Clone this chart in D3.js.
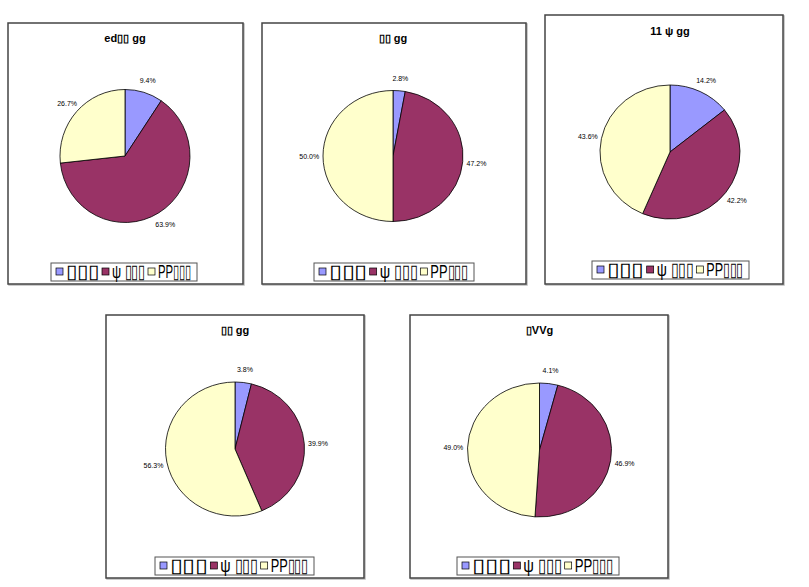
<!DOCTYPE html>
<html lang="en">
<head>
    <meta charset="UTF-8">
    <title>Pies</title>
    <script src="https://cdnjs.cloudflare.com/ajax/libs/d3/7.8.5/d3.min.js"></script>
    <style>
        body { margin: 0; background: #fff; }
        text { font-family: Arial, "Liberation Sans", sans-serif; }
    </style>
</head>
<body>
<svg id="plot" width="809" height="587"></svg>
<script>
// chart data
const titles = ["ed\u25AF\u25AF gg", "\u25AF\u25AF gg", "11 \u03C8 gg", "\u25AF\u25AF gg", "\u25AFVVg"];
const categories = ["\u25AF\u25AF\u25AF", "\u03C8 \u25AF\u25AF\u25AF", "PP\u25AF\u25AF\u25AF"];
const blueVals   = [9.4, 2.8, 14.2, 3.8, 4.1];
const maroonVals = [63.9, 47.2, 42.2, 39.9, 46.9];
const yellowVals = [26.7, 50.0, 43.6, 56.3, 49.0];
const colors = ["#9999FF", "#993366", "#FFFFCC"];

// panel layout: frame, pie center, radii, legend box
const panels = [
    {x: 8,   y: 23, w: 235, h: 261, cx: 125, cy: 156, rx: 65, ry: 66.5, lx: 51,  ly: 263, lw: 146, ty: 38},
    {x: 262, y: 23, w: 264, h: 261, cx: 393, cy: 156, rx: 70, ry: 65.5, lx: 314, ly: 263, lw: 160, ty: 38},
    {x: 545, y: 15, w: 238, h: 269, cx: 670, cy: 152, rx: 70, ry: 67,   lx: 592, ly: 261, lw: 157, ty: 31},
    {x: 106, y: 315, w: 258, h: 263, cx: 235, cy: 449, rx: 69.5, ry: 67, lx: 155, ly: 557, lw: 159, ty: 330},
    {x: 410, y: 315, w: 258, h: 263, cx: 539.5, cy: 450, rx: 72, ry: 67, lx: 457, ly: 557, lw: 162, ty: 330}
];

const svg = d3.select("#plot");
const pie = d3.pie().sort(null).value(d => d);

panels.forEach((p, i) => {
    const values = [blueVals[i], maroonVals[i], yellowVals[i]];
    const g = svg.append("g");

    // frame
    g.append("rect")
        .attr("x", p.x + 1).attr("y", p.y + 1)
        .attr("width", p.w).attr("height", p.h)
        .attr("fill", "none").attr("stroke", "#bbb").attr("stroke-width", 1.5);
    g.append("rect")
        .attr("x", p.x).attr("y", p.y)
        .attr("width", p.w).attr("height", p.h)
        .attr("fill", "#fff").attr("stroke", "#444").attr("stroke-width", 1.5);

    // title
    g.append("text")
        .attr("x", p.cx).attr("y", p.ty + 4)
        .attr("text-anchor", "middle")
        .style("font-size", "11px").style("font-weight", "bold")
        .text(titles[i]);

    // pie (drawn as unit circle then scaled to ellipse)
    const R = 66;
    const arc = d3.arc().innerRadius(0).outerRadius(R);
    const labelArc = d3.arc().innerRadius(R + 13).outerRadius(R + 13);
    const pg = g.append("g")
        .attr("transform", `translate(${p.cx},${p.cy}) scale(${p.rx / R},${p.ry / R})`);
    const arcs = pie(values);
    pg.selectAll("path")
        .data(arcs)
        .enter()
        .append("path")
        .attr("d", arc)
        .attr("fill", (d, k) => colors[k])
        .attr("stroke", "#000")
        .attr("stroke-width", 0.8)
        .attr("vector-effect", "non-scaling-stroke");

    // slice labels
    g.selectAll("text.lbl")
        .data(arcs)
        .enter()
        .append("text")
        .attr("class", "lbl")
        .attr("transform", d => {
            const c = labelArc.centroid(d);
            return `translate(${p.cx + c[0] * p.rx / R},${p.cy + c[1] * p.ry / R + 3})`;
        })
        .attr("text-anchor", "middle")
        .attr("fill", "#000")
        .style("font-size", "7px")
        .text(d => d.data.toFixed(1) + "%");

    // legend
    const lh = 18;
    g.append("rect")
        .attr("x", p.lx).attr("y", p.ly)
        .attr("width", p.lw).attr("height", lh)
        .attr("fill", "#fff").attr("stroke", "#555").attr("stroke-width", 1);
    const step = (p.lw - 8) / 3;
    categories.forEach((c, k) => {
        const ix = p.lx + 5 + k * step;
        g.append("rect")
            .attr("x", ix).attr("y", p.ly + 5)
            .attr("width", 7).attr("height", 7)
            .attr("fill", colors[k]).attr("stroke", "#000").attr("stroke-width", 0.7);
        g.append("text")
            .attr("x", ix + 10).attr("y", p.ly + 15)
            .style("font-size", "19px")
            .attr("textLength", step - 13)
            .attr("lengthAdjust", "spacingAndGlyphs")
            .text(c);
    });
});
</script>
</body>
</html>
